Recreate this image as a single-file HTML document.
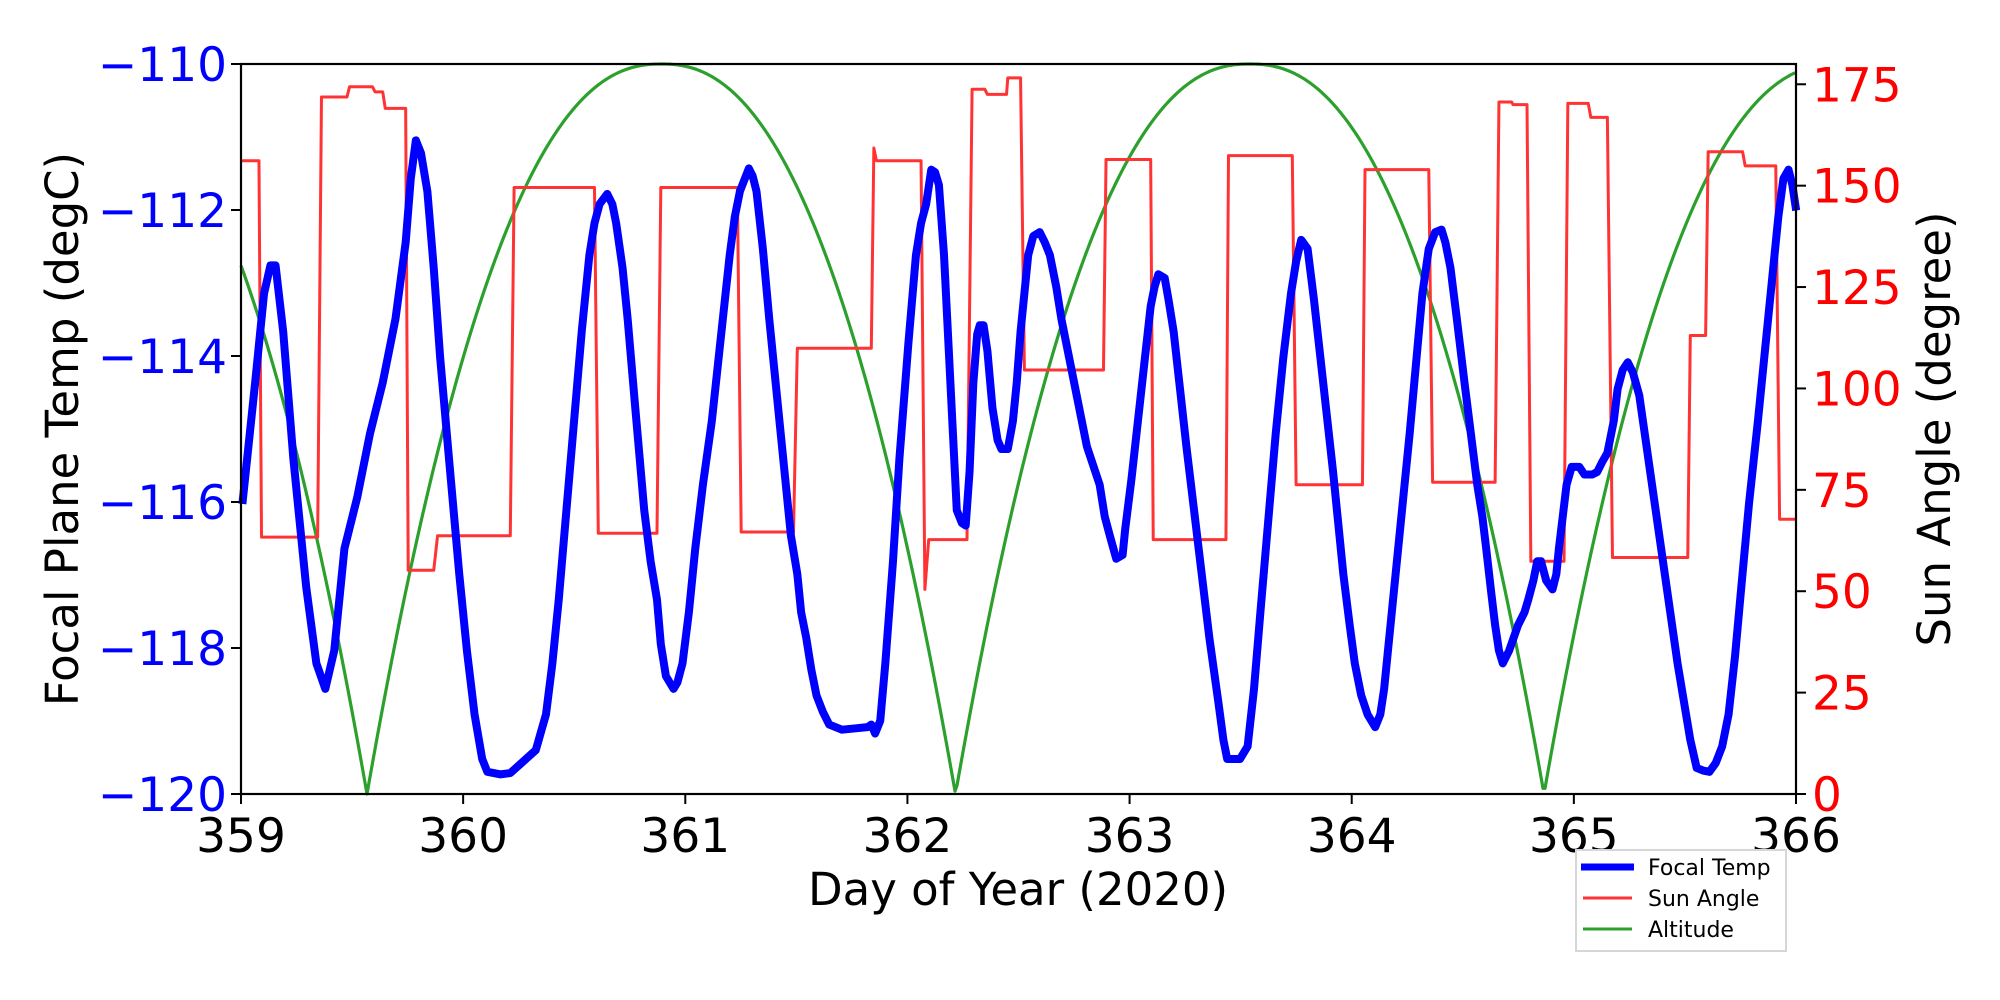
<!DOCTYPE html>
<html><head><meta charset="utf-8"><style>
html,body{margin:0;padding:0;background:#fff;}
svg{display:block;font-family:"DejaVu Sans","Liberation Sans",sans-serif;}
</style></head><body>
<svg id="s" width="2000" height="1000" viewBox="0 0 2000 1000" xmlns="http://www.w3.org/2000/svg">
<rect width="2000" height="1000" fill="#fff"/>
<g id="data" transform="scale(1.2757)" fill="none" stroke-linejoin="round">
<polyline id="green" stroke="#2ca02c" stroke-width="3.2" vector-effect="non-scaling-stroke" points=""/>
<polyline stroke="#ff3333" stroke-width="3" vector-effect="non-scaling-stroke" points="
189,126 203,126 205,421 249,421 252,76 272,76 274,68 292,68 294,72 300,72 302,85 318,85 320,447 340,447 343,420 400,420 403,147 466,147 469,418 515,418 518,147 578,147 581,417 622,417 625,273 683,273 685,116 687,126 722,126 725,462 728,423 758,423 762,70 772,70 774,74 789,74 790,61 800,61 803,290 865,290 867,125 902,125 904,423 961,423 963,122 1013,122 1016,380 1068,380 1070,133 1120,133 1123,378 1172,378 1175,80 1185,80 1186,82 1197,82 1200,440 1226,440 1229,81 1245,81 1247,92 1260,92 1264,437 1323,437 1325,263 1337,263 1339,119 1366,119 1368,130 1392,130 1395,407 1408,407"/>
<polyline stroke="#0000ff" stroke-width="8" vector-effect="non-scaling-stroke" points="
190,395 200,300 207,230 212,208 216,208 222,260 230,360 240,460 248,520 255,540 262,510 270,430 280,390 290,340 300,300 310,250 318,190 322,140 326,110 330,120 335,150 340,210 345,280 352,360 360,450 366,510 372,560 378,595 382,605 392,607 400,606 410,597 420,588 428,560 433,520 438,470 444,400 450,330 456,260 462,200 466,175 470,160 476,152 480,160 483,175 488,210 492,250 498,320 505,400 510,440 515,470 518,505 522,530 528,540 531,535 535,520 540,480 545,430 551,380 558,330 565,265 572,200 576,170 580,150 587,132 590,138 593,150 598,195 603,250 609,310 615,370 620,420 625,450 628,480 632,500 636,525 640,545 645,558 650,568 660,572 670,571 680,570 683,568 686,575 690,565 694,520 700,440 705,360 712,270 718,200 722,175 726,160 730,133 733,135 736,145 740,200 743,260 747,340 750,400 754,410 757,412 760,370 763,300 766,262 768,255 771,255 774,275 778,320 782,345 785,352 790,352 794,330 797,300 800,260 803,230 806,200 810,185 815,182 819,190 823,200 828,225 832,250 837,275 842,300 847,325 852,350 857,365 862,380 866,405 870,420 875,438 880,435 882,415 887,375 892,330 897,285 902,240 905,225 908,215 913,218 916,235 920,260 925,305 930,350 936,400 942,450 948,500 955,550 959,580 962,595 972,595 978,585 983,540 988,480 994,410 1000,340 1006,280 1012,230 1016,205 1020,188 1025,195 1030,235 1035,280 1040,325 1045,370 1049,410 1053,450 1058,490 1062,520 1067,545 1072,560 1078,570 1082,560 1085,540 1090,490 1095,440 1100,390 1105,340 1110,285 1115,230 1120,195 1125,182 1130,180 1133,190 1137,210 1142,250 1148,300 1153,340 1158,380 1162,405 1165,430 1169,465 1172,490 1175,510 1178,520 1183,510 1190,490 1195,480 1198,470 1202,455 1205,440 1208,440 1212,455 1217,462 1220,450 1222,430 1225,405 1228,380 1232,366 1238,366 1242,372 1248,372 1252,370 1256,362 1260,355 1265,330 1268,305 1272,290 1276,284 1280,292 1285,310 1290,345 1295,380 1300,415 1305,450 1310,485 1315,520 1320,550 1325,580 1330,602 1335,604 1340,605 1345,598 1350,585 1355,560 1360,515 1365,460 1371,395 1378,330 1384,270 1390,210 1394,170 1398,140 1402,133 1405,145 1408,165"/>
</g>
<rect x="241" y="64" width="1555" height="730" fill="none" stroke="#000" stroke-width="2.2"/>
<g id="ticks" stroke="#000" stroke-width="2"></g>
<g id="lbl"></g>
<text x="1018" y="905" font-size="45" text-anchor="middle" fill="#000">Day of Year (2020)</text>
<text transform="translate(78,429) rotate(-90)" font-size="45" text-anchor="middle" fill="#000">Focal Plane Temp (degC)</text>
<text transform="translate(1950,429) rotate(-90)" font-size="45" text-anchor="middle" fill="#000">Sun Angle (degree)</text>
<rect x="1576" y="850" width="210" height="101" fill="#fff" stroke="#d6d6d6" stroke-width="2"/>
<line x1="1581" y1="867" x2="1634" y2="867" stroke="#0000ff" stroke-width="7"/>
<line x1="1583" y1="898" x2="1632" y2="898" stroke="#ff3333" stroke-width="3"/>
<line x1="1583" y1="929" x2="1632" y2="929" stroke="#2ca02c" stroke-width="3"/>
<text x="1648" y="875" font-size="22" fill="#000">Focal Temp</text>
<text x="1648" y="906" font-size="22" fill="#000">Sun Angle</text>
<text x="1648" y="937" font-size="22" fill="#000">Altitude</text>
</svg>
<script>
(function(){
var NS="http://www.w3.org/2000/svg";
var zeros=[367,955.5,1544],half=294,pts=[];
for(var x=241;x<=1796;x+=2){
  var best=1e9;for(var i=0;i<zeros.length;i++){var d=Math.abs(x-zeros[i]);if(d<best)best=d;}
  var s=Math.min(best/half,1);
  var f=1-Math.pow(1-s,2.3);
  var y=794-730*f;
  pts.push((x/1.2757).toFixed(2)+","+(y/1.2757).toFixed(2));
}
document.getElementById("green").setAttribute("points",pts.join(" "));
var t=document.getElementById("ticks"),l=document.getElementById("lbl");
function ln(x1,y1,x2,y2){var e=document.createElementNS(NS,"line");e.setAttribute("x1",x1);e.setAttribute("y1",y1);e.setAttribute("x2",x2);e.setAttribute("y2",y2);t.appendChild(e);}
function tx(x,y,s,c,a){var e=document.createElementNS(NS,"text");e.setAttribute("x",x);e.setAttribute("y",y);e.setAttribute("font-size","47");e.setAttribute("fill",c);e.setAttribute("text-anchor",a);e.textContent=s;l.appendChild(e);}
for(var d=0;d<=7;d++){var x=241+d*1555/7;ln(x,794,x,804);tx(x,852,String(359+d),"#000","middle");}
for(var k=0;k<=5;k++){var T=-110-2*k;var y=64+k*146;ln(231,y,241,y);tx(227,y+17,"\u2212"+(-T),"#0000ff","end");}
for(var a=0;a<=175;a+=25){var y=794-a*730/180;ln(1796,y,1806,y);tx(1812,y+17,String(a),"#ff0000","start");}
})();
</script>
</body></html>
